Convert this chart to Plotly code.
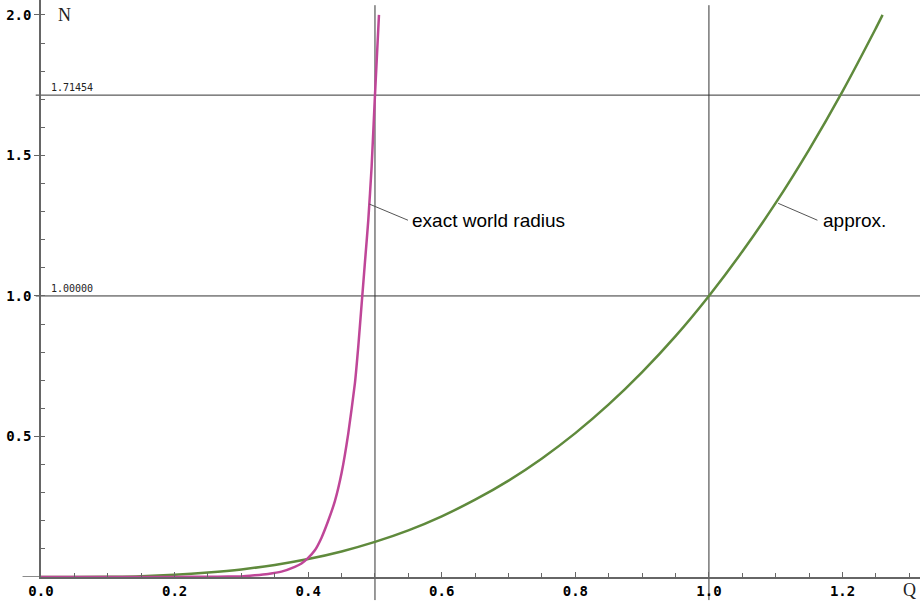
import plotly.graph_objects as go

# values
q_approx = [0.0, 0.05, 0.1, 0.15, 0.2, 0.25, 0.3, 0.35, 0.4, 0.45, 0.5, 0.55, 0.6, 0.65,
            0.7, 0.75, 0.8, 0.85, 0.9, 0.95, 1.0, 1.05, 1.1, 1.15, 1.2, 1.25, 1.26]
n_approx = [0.0, 0.0001, 0.001, 0.003, 0.008, 0.016, 0.027, 0.043, 0.064, 0.091, 0.125, 0.166,
            0.216, 0.275, 0.343, 0.422, 0.512, 0.614, 0.729, 0.857, 1.0, 1.158, 1.331, 1.521,
            1.728, 1.953, 2.0]

q_exact = [0.0, 0.1, 0.2, 0.25, 0.28, 0.30, 0.32, 0.34, 0.36, 0.38, 0.39, 0.40, 0.41, 0.42,
           0.43, 0.44, 0.45, 0.46, 0.47, 0.475, 0.48, 0.485, 0.49, 0.495, 0.50, 0.506]
n_exact = [0.0, 0.0, 0.0003, 0.001, 0.0015, 0.002, 0.006, 0.011, 0.019, 0.036, 0.048, 0.068,
           0.095, 0.14, 0.20, 0.27, 0.37, 0.51, 0.69, 0.82, 0.97, 1.12, 1.27, 1.46, 1.71454, 2.0]

x_ticks = [0.0, 0.2, 0.4, 0.6, 0.8, 1.0, 1.2]
y_ticks = [0.5, 1.0, 1.5, 2.0]
ref_x = [0.5, 1.0]
ref_y = [1.71454, 1.0]

MAGENTA = "#BF4698"
GREEN = "#5F8A3C"
mono = "DejaVu Sans Mono"

fig = go.Figure()
fig.add_trace(go.Scatter(x=q_approx, y=n_approx, mode="lines",
                         line={"color": GREEN, "width": 2.5, "shape": "spline"}))
fig.add_trace(go.Scatter(x=q_exact, y=n_exact, mode="lines",
                         line={"color": MAGENTA, "width": 2.5, "shape": "spline", "smoothing": 0.5}))

# reference lines
for xv in ref_x:
    fig.add_shape(type="line", xref="x", yref="paper", x0=xv, x1=xv, y0=-0.04, y1=0.991,
                  line={"color": "#333", "width": 1}, layer="below")
for yv in ref_y:
    fig.add_shape(type="line", xref="paper", yref="y", x0=-0.006, x1=1, y0=yv, y1=yv,
                  line={"color": "#333", "width": 1}, layer="below")
    fig.add_annotation(text=f"{yv:.5f}", xref="paper", yref="y", x=0.0095, y=yv,
                       xanchor="left", yanchor="bottom", showarrow=False,
                       font={"family": mono, "size": 10, "color": "#222"})

# extend x axis line to the left of the y axis
fig.add_shape(type="line", xref="paper", yref="y", x0=-0.021, x1=0, y0=0, y1=0,
              line={"color": "#666", "width": 1.5})

# curve labels with leader lines
labels = [("exact world radius", 0.4915, 1.327, 0.5494, 1.2694, 0.5525),
          ("approx.", 1.1037, 1.3296, 1.1624, 1.2694, 1.168)]
for text, x0, y0, x1, y1, tx in labels:
    fig.add_shape(type="line", x0=x0, y0=y0, x1=x1, y1=y1, line={"color": "#555", "width": 1})
    fig.add_annotation(text=text, x=tx, y=1.267, xanchor="left", yanchor="middle", showarrow=False,
                       font={"family": "Liberation Sans", "size": 19, "color": "black"})

fig.add_annotation(text="N", xref="paper", yref="y", x=0.017, y=2.0, xanchor="left",
                   yanchor="middle", showarrow=False,
                   font={"family": "Liberation Serif", "size": 18, "color": "#222"})
fig.add_annotation(text="Q", xref="paper", yref="paper", x=0.9875, y=-0.022, xanchor="center",
                   yanchor="middle", showarrow=False,
                   font={"family": "Liberation Serif", "size": 18, "color": "#222"})

fig.update_layout(
    width=920,
    height=602,
    margin={"l": 41, "r": 0, "t": 0, "b": 25},
    plot_bgcolor="white",
    paper_bgcolor="white",
    showlegend=False,
)
fig.update_xaxes(
    range=[0, 1.316],
    automargin=False,
    showgrid=False,
    zeroline=False,
    showline=True,
    linecolor="#666",
    linewidth=1.5,
    tickvals=x_ticks,
    ticktext=[f"{v:.1f}" for v in x_ticks],
    ticks="inside",
    ticklen=5,
    tickcolor="#666",
    minor={"dtick": 0.05, "tick0": 0, "ticks": "inside", "ticklen": 4, "tickcolor": "#666"},
    tickfont={"family": mono, "size": 14, "color": "black", "weight": "bold"},
)
fig.update_yaxes(
    range=[0, 2.053],
    automargin=False,
    showgrid=False,
    zeroline=False,
    showline=True,
    linecolor="#666",
    linewidth=1.5,
    tickvals=y_ticks,
    ticktext=[f"{v:.1f}" for v in y_ticks],
    ticks="outside",
    ticklen=5,
    tickcolor="#666",
    minor={"dtick": 0.1, "tick0": 0, "ticks": "inside", "ticklen": 4, "tickcolor": "#666"},
    tickfont={"family": mono, "size": 14, "color": "black", "weight": "bold"},
)

# the page body has a default 8px margin that would push the figure off the window
fig.write_html("out.html", config={"displayModeBar": False},
               post_script="document.body.style.margin = '0';")
